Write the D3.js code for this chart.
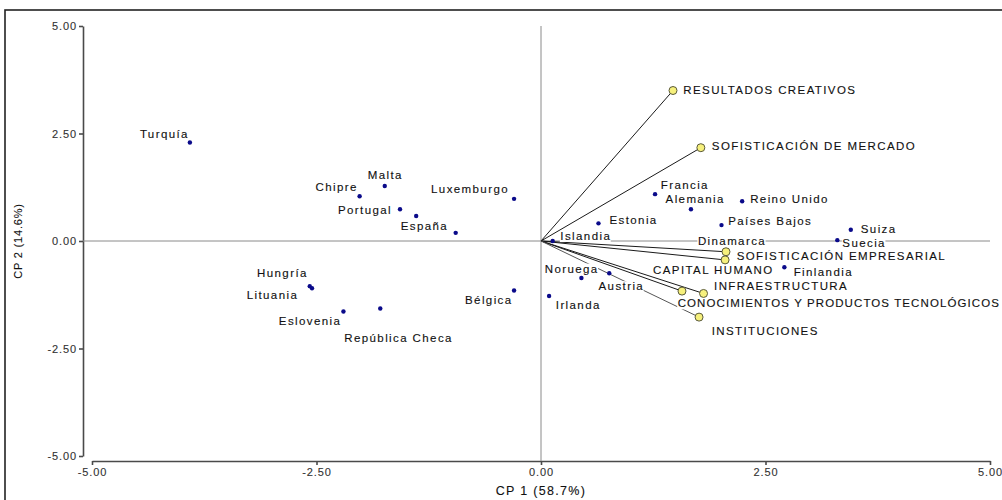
<!DOCTYPE html>
<html>
<head>
<meta charset="utf-8">
<script src="https://cdn.jsdelivr.net/npm/d3@7"></script>
<style>
  html, body { margin: 0; padding: 0; background: #fff; }
  svg { display: block; font-family: "Liberation Sans", Arial, sans-serif; }
</style>
</head>
<body>
<svg id="chart" width="1002" height="500"></svg>
<script>
// Country scores on the first two principal components
const countries = ["Turquía", "Malta", "Chipre", "Luxemburgo", "Portugal", "", "España",
  "Hungría", "Lituania", "Eslovenia", "República Checa", "Bélgica", "Irlanda", "Noruega",
  "Austria", "Islandia", "Estonia", "Francia", "Alemania", "Reino Unido", "Países Bajos",
  "Dinamarca", "Suiza", "Suecia", "Finlandia"];
const countryCp1 = [-3.91, -1.74, -2.02, -0.30, -1.57, -1.39, -0.95,
  -2.575, -2.55, -2.20, -1.79, -0.30, 0.09, 0.45,
  0.76, 0.13, 0.64, 1.27, 1.67, 2.24, 2.01,
  2.12, 3.45, 3.30, 2.71];
const countryCp2 = [2.29, 1.28, 1.04, 0.98, 0.74, 0.58, 0.19,
  -1.05, -1.10, -1.64, -1.57, -1.15, -1.28, -0.86,
  -0.75, 0.00, 0.41, 1.09, 0.74, 0.925, 0.37,
  0.00, 0.26, 0.02, -0.61];

// Variable loadings (pillars of the innovation index)
const variables = ["RESULTADOS CREATIVOS", "SOFISTICACIÓN DE MERCADO", "SOFISTICACIÓN EMPRESARIAL",
  "CAPITAL HUMANO", "INFRAESTRUCTURA", "CONOCIMIENTOS Y PRODUCTOS TECNOLÓGICOS", "INSTITUCIONES"];
const variableCp1 = [1.47, 1.78, 2.06, 2.05, 1.81, 1.57, 1.76];
const variableCp2 = [3.50, 2.17, -0.25, -0.44, -1.22, -1.165, -1.77];

// Axis ticks and titles
const tickValues = [-5, -2.5, 0, 2.5, 5];
const xTitle = "CP 1 (58.7%)";
const yTitle = "CP 2 (14.6%)";

// Label placement relative to each mark (pixels: dx to text start, dy to baseline)
const countryLabelOffsets = [[-50, -5], [-17, -7.3], [-44, -5.3], [-83, -5.7], [-62, 5], [0, 0], [-55, -2.7],
  [-52.7, -9.3], [-65.3, 10.3], [-64.6, 13.7], [-36, 33.7], [-49, 14], [6.7, 12.6], [-36.7, -5.4],
  [-10.7, 17], [7.7, -1], [11, 1], [5.7, -5.3], [-25.4, -6], [8, 1.4], [6.7, 0.3],
  [-33.5, 4], [10, 3.3], [5, 6.7], [9.3, 8.7]];
const variableLabelOffsets = [[10.3, 3.3], [11, 2.3], [10.7, 8.3], [-72, 14], [10.5, -3], [-4.3, 16.3], [12.7, 18]];

const svg = d3.select("#chart");

// outer frame
svg.append("rect")
  .attr("x", 5).attr("y", 10).attr("width", 1010).attr("height", 510)
  .attr("fill", "none").attr("stroke", "#222").attr("stroke-width", 1.6);

const x = d3.scaleLinear().domain([-5, 5]).range([92, 990]);
const y = d3.scaleLinear().domain([-5, 5]).range([456, 26]);

const fmt = d3.format(".2f");
const tickFmt = d => fmt(d).replace("\u2212", "-");
const textStyle = sel => sel
  .attr("font-size", 11.5)
  .attr("letter-spacing", 1.4)
  .attr("fill", "#111")
  .attr("stroke", "#111")
  .attr("stroke-width", 0.12);

// axes
const xAxis = svg.append("g")
  .attr("transform", `translate(0,461)`)
  .call(d3.axisBottom(x).tickValues(tickValues).tickFormat(tickFmt).tickSizeOuter(0).tickSizeInner(4).tickPadding(3));
const yAxis = svg.append("g")
  .attr("transform", `translate(83,0)`)
  .call(d3.axisLeft(y).tickValues(tickValues).tickFormat(tickFmt).tickSizeOuter(0).tickSizeInner(4).tickPadding(2));
[xAxis, yAxis].forEach(g => {
  g.select(".domain").attr("stroke", "#4a4a4a").attr("stroke-width", 1.6);
  g.selectAll(".tick line").attr("stroke", "#4a4a4a").attr("stroke-width", 1.6);
  g.selectAll(".tick text").attr("font-family", "Liberation Sans, Arial, sans-serif")
    .call(textStyle).attr("font-size", 11).attr("letter-spacing", 0.9)
    .attr("fill", "#333").attr("stroke", "#333");
});

// axis titles
svg.append("text")
  .attr("x", x(0)).attr("y", 495)
  .attr("text-anchor", "middle")
  .call(textStyle).attr("font-size", 12.5).attr("letter-spacing", 1.3)
  .text(xTitle);
svg.append("text")
  .attr("transform", `translate(22,${y(0)}) rotate(-90)`)
  .attr("text-anchor", "middle")
  .call(textStyle).attr("font-size", 11).attr("letter-spacing", 0.8)
  .text(yTitle);

// reference lines through the origin
svg.append("line")
  .attr("x1", x(0)).attr("x2", x(0)).attr("y1", y(5)).attr("y2", 461)
  .attr("stroke", "#8a8a8a").attr("stroke-width", 1);
svg.append("line")
  .attr("x1", 83).attr("x2", x(5)).attr("y1", y(0)).attr("y2", y(0))
  .attr("stroke", "#8a8a8a").attr("stroke-width", 1);

// loading vectors
const vars = variables.map((name, i) => ({ name, cp1: variableCp1[i], cp2: variableCp2[i], off: variableLabelOffsets[i] }));
svg.append("g").selectAll("line").data(vars).join("line")
  .attr("x1", x(0)).attr("y1", y(0))
  .attr("x2", d => x(d.cp1)).attr("y2", d => y(d.cp2))
  .attr("stroke", (d, i) => i === 6 ? "#555" : "#1a1a1a")
  .attr("stroke-width", 1);

// country points
const pts = countries.map((name, i) => ({ name, cp1: countryCp1[i], cp2: countryCp2[i], off: countryLabelOffsets[i] }));
svg.append("g").selectAll("circle").data(pts).join("circle")
  .attr("cx", d => x(d.cp1)).attr("cy", d => y(d.cp2))
  .attr("r", 2.2)
  .attr("fill", "#0a0a8a");

// labels with a white backing that interrupts lines behind them;
// long labels near the right edge get tighter spacing so they stay inside
function drawLabels(data) {
  const g = svg.append("g");
  const items = g.selectAll("g").data(data.filter(d => d.name)).join("g");
  items.append("text")
    .attr("x", d => x(d.cp1) + d.off[0])
    .attr("y", d => y(d.cp2) + d.off[1])
    .call(textStyle)
    .text(d => d.name);
  items.each(function () {
    const t = d3.select(this).select("text");
    let b = t.node().getBBox();
    if (b.x + b.width > 1000) {
      const n = t.text().length;
      const ls = 1.4 - (b.x + b.width - 1000) / n;
      t.attr("letter-spacing", ls);
      b = t.node().getBBox();
    }
    d3.select(this).insert("rect", "text")
      .attr("x", b.x - 0.5).attr("y", b.y + 1)
      .attr("width", b.width).attr("height", b.height - 1)
      .attr("fill", "#fff");
  });
}
drawLabels(pts);
drawLabels(vars);

// variable markers
svg.append("g").selectAll("circle").data(vars).join("circle")
  .attr("cx", d => x(d.cp1)).attr("cy", d => y(d.cp2))
  .attr("r", 4)
  .attr("fill", "#f6f07c")
  .attr("stroke", "#5a5a3a")
  .attr("stroke-width", 1);
</script>
</body>
</html>
